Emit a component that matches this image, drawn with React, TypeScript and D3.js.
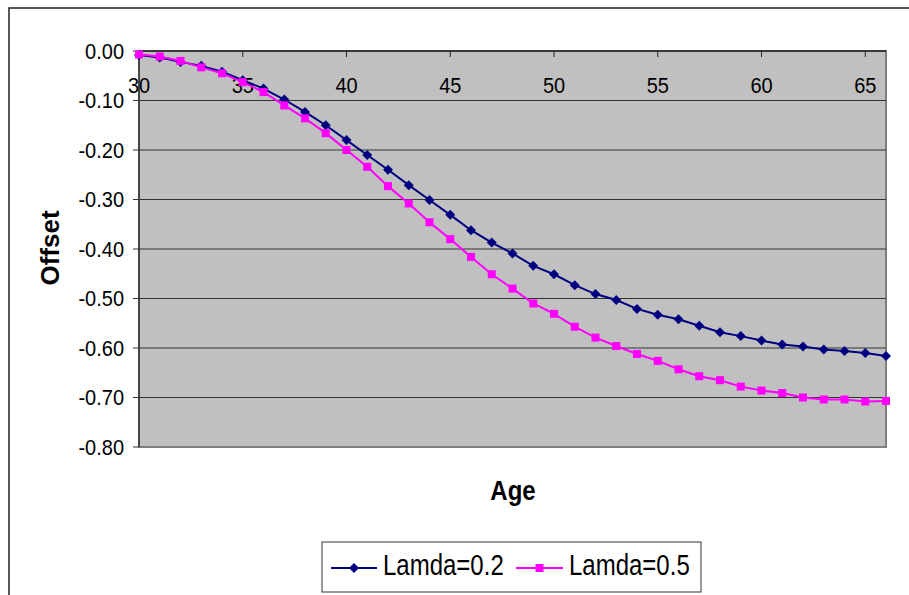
import React from 'react';
import * as d3 from 'd3';

// Ages on the x axis (one point per year)
const ages = d3.range(30, 67);

const lamda02 = [
  -0.008, -0.013, -0.022, -0.030, -0.042, -0.059, -0.076, -0.098, -0.123, -0.150,
  -0.180, -0.210, -0.240, -0.271, -0.301, -0.331, -0.362, -0.387, -0.409, -0.434,
  -0.451, -0.473, -0.491, -0.503, -0.521, -0.533, -0.542, -0.555, -0.568, -0.576,
  -0.585, -0.593, -0.597, -0.603, -0.606, -0.610, -0.616,
];

const lamda05 = [
  -0.007, -0.011, -0.020, -0.033, -0.045, -0.063, -0.083, -0.110, -0.136, -0.166,
  -0.200, -0.234, -0.273, -0.308, -0.346, -0.380, -0.416, -0.451, -0.480, -0.510,
  -0.531, -0.557, -0.579, -0.596, -0.612, -0.626, -0.643, -0.657, -0.665, -0.678,
  -0.686, -0.691, -0.700, -0.704, -0.704, -0.708, -0.707,
];

const xTicks = [30, 35, 40, 45, 50, 55, 60, 65];
const yTicks = [0, -0.1, -0.2, -0.3, -0.4, -0.5, -0.6, -0.7, -0.8];

const seriesNames = ['Lamda=0.2', 'Lamda=0.5'];
const seriesColors = ['#000080', '#FF00FF'];

const W = 909;
const H = 595;
const plot = { left: 139, top: 51, right: 886, bottom: 447 };
const font = 'Arial, "Liberation Sans", sans-serif';

const x = d3.scaleLinear().domain([30, 66]).range([plot.left, plot.right]);
const y = d3.scaleLinear().domain([0, -0.8]).range([plot.top, plot.bottom]);

const line = d3.line<number>()
  .x((_, i) => x(ages[i]))
  .y(d => y(d));

const diamond = (cx: number, cy: number, r: number) =>
  `M${cx},${cy - r}L${cx + r},${cy}L${cx},${cy + r}L${cx - r},${cy}Z`;

const Marker: React.FC<{ kind: number; cx: number; cy: number }> = ({ kind, cx, cy }) =>
  kind === 0 ? (
    <path d={diamond(cx, cy, 5)} fill={seriesColors[0]} />
  ) : (
    <rect x={cx - 4} y={cy - 4} width={8} height={8} fill={seriesColors[1]} />
  );

// text that is a little taller than wide, like the source picture
const Txt: React.FC<{
  x: number; y: number; size: number; sy?: number; anchor?: string; bold?: boolean; children: React.ReactNode;
}> = ({ x, y, size, sy = 1.1, anchor = 'start', bold, children }) => (
  <text transform={`translate(${x},${y}) scale(1,${sy})`} textAnchor={anchor} fontFamily={font}
    fontSize={size} fontWeight={bold ? 'bold' : 'normal'} fill="#000">
    {children}
  </text>
);

const App: React.FC = () => {
  const series = [lamda02, lamda05];
  return (
    <div style={{ position: 'fixed', left: 0, top: 0 }}>
      <svg width={W} height={H} style={{ display: 'block', background: '#fff' }}>
        {/* outer chart border (runs off the right/bottom edge) */}
        <rect x={9} y={8} width={W + 20} height={H + 20} fill="#fff" stroke="#222" strokeWidth={1.5} />

        {/* plot area */}
        <rect x={plot.left} y={plot.top} width={plot.right - plot.left} height={plot.bottom - plot.top}
          fill="#C0C0C0" stroke="#808080" strokeWidth={2} />

        {/* gridlines */}
        {yTicks.slice(1, -1).map(t => (
          <line key={t} x1={plot.left} x2={plot.right} y1={y(t)} y2={y(t)} stroke="#333" strokeWidth={1} />
        ))}

        {/* y axis */}
        <line x1={plot.left} x2={plot.left} y1={plot.top} y2={plot.bottom} stroke="#333" strokeWidth={1.5} />
        {yTicks.map(t => (
          <g key={t}>
            <line x1={plot.left - 6} x2={plot.left} y1={y(t)} y2={y(t)} stroke="#333" strokeWidth={1} />
            <Txt x={124} y={y(t) + 7.5} size={20} sy={1.08} anchor="end">
              {d3.format('.2f')(t).replace('−', '-')}
            </Txt>
          </g>
        ))}

        {/* x axis along y = 0 (top) */}
        <line x1={plot.left} x2={plot.right} y1={y(0)} y2={y(0)} stroke="#222" strokeWidth={1.5} />
        {xTicks.map(t => (
          <g key={t}>
            <line x1={x(t)} x2={x(t)} y1={y(0)} y2={y(0) + 6} stroke="#222" strokeWidth={1} />
            <Txt x={x(t)} y={92.5} size={20} sy={1.08} anchor="middle">{t}</Txt>
          </g>
        ))}

        {/* series */}
        {series.map((s, k) => (
          <g key={k}>
            <path d={line(s) ?? ''} fill="none" stroke={seriesColors[k]} strokeWidth={2} />
            {s.map((v, i) => (
              <Marker key={i} kind={k} cx={x(ages[i])} cy={y(v)} />
            ))}
          </g>
        ))}

        {/* axis titles */}
        <Txt x={513} y={500} size={24} sy={1.12} anchor="middle" bold>Age</Txt>
        <text transform="translate(59,248) rotate(-90)" textAnchor="middle" fontFamily={font} fontSize={26}
          fontWeight="bold">Offset</text>

        {/* legend */}
        <rect x={322} y={542} width={379} height={50} fill="#fff" stroke="#333" strokeWidth={1} />
        {[
          { x1: 331, x2: 377, tx: 383 },
          { x1: 516, x2: 563, tx: 569 },
        ].map((p, k) => (
          <g key={k}>
            <line x1={p.x1} x2={p.x2} y1={568} y2={568} stroke={seriesColors[k]} strokeWidth={2} />
            <Marker kind={k} cx={(p.x1 + p.x2) / 2} cy={568} />
            <Txt x={p.tx} y={575} size={24} sy={1.2}>{seriesNames[k]}</Txt>
          </g>
        ))}
      </svg>
    </div>
  );
};

export default App;
